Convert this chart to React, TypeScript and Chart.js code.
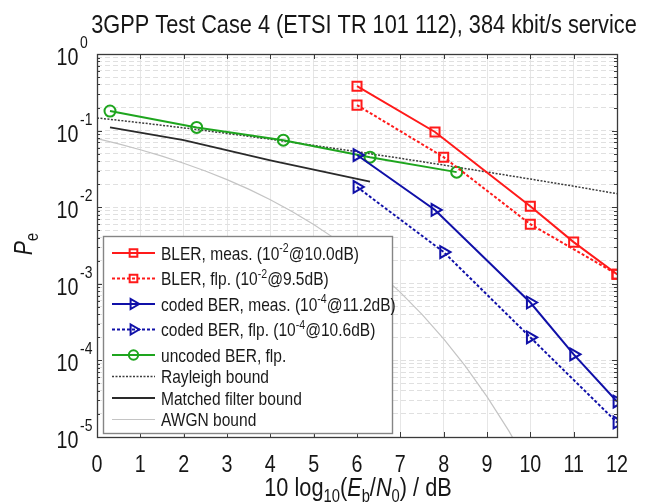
import React, { useEffect, useRef } from "react";
import { Chart, registerables } from "chart.js";
import { drawPoint } from "chart.js/helpers";

Chart.register(...registerables);

// ---------------- data ----------------
const titleText = "3GPP Test Case 4 (ETSI TR 101 112), 384 kbit/s service";
const xTickValues = [0, 1, 2, 3, 4, 5, 6, 7, 8, 9, 10, 11, 12];
const xTickLabels = ["0", "1", "2", "3", "4", "5", "6", "7", "8", "9", "10", "11", "12"];
const yDecadeExponents = [0, -1, -2, -3, -4, -5];
const yTickExponentLabels = ["0", "-1", "-2", "-3", "-4", "-5"];
const yMinorMultipliers = [2, 3, 4, 5, 6, 7, 8, 9];

const ebn0Meas = [6.0, 7.8, 10.0, 11.0, 12.0];
const ebn0Flp = [6.0, 8.0, 10.0, 12.0];
const blerMeas = [0.38, 0.096, 0.0103, 0.0035, 0.00133];
const blerFlp = [0.215, 0.045, 0.006, 0.00133];
const codedBerMeas = [0.048, 0.0092, 5.7e-4, 1.2e-4, 2.9e-5];
const codedBerFlp = [0.0184, 0.0026, 2.0e-4, 1.55e-5];

const ebn0Uncoded = [0.3, 2.3, 4.3, 6.3, 8.3];
const uncodedBerFlp = [0.18, 0.11, 0.075, 0.045, 0.0287];

const ebn0Rayleigh = [0, 1, 2, 3, 4, 5, 6, 7, 8, 9, 10, 11, 12];
const rayleighBound = [0.1464, 0.1267, 0.1085, 0.0919, 0.0771, 0.0642, 0.053, 0.0435, 0.0355, 0.0288, 0.0233, 0.0188, 0.015];

const ebn0Mfb = [0.3, 2.0, 4.0, 6.3];
const matchedFilterBound = [0.11, 0.075, 0.041, 0.0215];

const ebn0Awgn = [0, 0.5, 1, 1.5, 2, 2.5, 3, 3.5, 4, 4.5, 5, 5.5, 6, 6.5, 7, 7.5, 8, 8.5, 9, 9.5, 10];
const awgnBound = [0.0786, 0.0671, 0.0563, 0.0464, 0.0375, 0.0297, 0.0229, 0.0172, 0.0125, 0.0088, 0.00595, 0.00386, 0.00239, 0.0014, 7.73e-4, 3.99e-4, 1.91e-4, 8.4e-5, 3.36e-5, 1.21e-5, 3.87e-6];

const legendLabels = [
  "BLER, meas. (10^{-2}@10.0dB)",
  "BLER, flp. (10^{-2}@9.5dB)",
  "coded BER, meas. (10^{-4}@11.2dB)",
  "coded BER, flp. (10^{-4}@10.6dB)",
  "uncoded BER, flp.",
  "Rayleigh bound",
  "Matched filter bound",
  "AWGN bound",
];

// ---------------- text helpers ----------------
type Seg = { t: string; sup?: boolean; sub?: boolean; it?: boolean };
const FONT = '"Liberation Sans", Arial, Helvetica, sans-serif';
const SX = 0.82;

function parseRich(s: string): Seg[] {
  const out: Seg[] = [];
  const re = /([\^_])\{([^}]*)\}/g;
  let last = 0;
  let m: RegExpExecArray | null;
  while ((m = re.exec(s))) {
    if (m.index > last) out.push({ t: s.slice(last, m.index) });
    out.push(m[1] === "^" ? { t: m[2], sup: true } : { t: m[2], sub: true });
    last = m.index + m[0].length;
  }
  if (last < s.length) out.push({ t: s.slice(last) });
  return out;
}

function segFont(s: Seg, size: number) {
  const sz = s.sup || s.sub ? size * 0.68 : size;
  return `${s.it ? "italic " : ""}${sz}px ${FONT}`;
}

function drawRich(ctx: CanvasRenderingContext2D, segs: Seg[], x: number, y: number, size: number, align: "left" | "center" | "right", sx = SX, color = "#161616") {
  ctx.save();
  ctx.fillStyle = color;
  ctx.textBaseline = "alphabetic";
  ctx.textAlign = "left";
  const ws = segs.map((s) => {
    ctx.font = segFont(s, size);
    return ctx.measureText(s.t).width;
  });
  const total = ws.reduce((a, b) => a + b, 0);
  ctx.translate(x, y);
  ctx.scale(sx, 1);
  let cx = align === "left" ? 0 : align === "center" ? -total / 2 : -total;
  segs.forEach((s, i) => {
    ctx.font = segFont(s, size);
    const dy = s.sup ? -size * 0.4 : s.sub ? size * 0.22 : 0;
    ctx.fillText(s.t, cx, dy);
    cx += ws[i];
  });
  ctx.restore();
}

// ---------------- plugins ----------------
const yGridValues: number[] = [];
yDecadeExponents.forEach((e) => {
  yGridValues.push(Math.pow(10, e));
  if (e < 0) yMinorMultipliers.forEach((m) => yGridValues.push(m * Math.pow(10, e)));
});
yGridValues.sort((a, b) => a - b);

const matlabAxes = {
  id: "matlabAxes",
  afterDatasetsDraw(chart: any) {
    const { ctx, chartArea: a, scales } = chart;
    const xs = scales.x;
    const ys = scales.y;
    ctx.save();
    ctx.setLineDash([]);
    ctx.strokeStyle = "#3a3a3a";
    ctx.lineWidth = 1;
    ctx.beginPath();
    xTickValues.forEach((v) => {
      const px = Math.round(xs.getPixelForValue(v)) + 0.5;
      ctx.moveTo(px, a.bottom);
      ctx.lineTo(px, a.bottom - 5);
      ctx.moveTo(px, a.top);
      ctx.lineTo(px, a.top + 5);
    });
    yGridValues.forEach((v) => {
      const major = Math.abs(Math.log10(v) - Math.round(Math.log10(v))) < 1e-9;
      const len = major ? 5 : 3;
      const py = Math.round(ys.getPixelForValue(v)) + 0.5;
      ctx.moveTo(a.left, py);
      ctx.lineTo(a.left + len, py);
      ctx.moveTo(a.right, py);
      ctx.lineTo(a.right - len, py);
    });
    ctx.stroke();
    ctx.lineWidth = 1.3;
    ctx.strokeRect(a.left + 0.5, a.top + 0.5, a.right - a.left, a.bottom - a.top);

    // legend
    const lx0 = 103, lx1 = 392, ly0 = 236, ly1 = 433;
    ctx.fillStyle = "#ffffff";
    ctx.fillRect(lx0, ly0, lx1 - lx0, ly1 - ly0);
    ctx.strokeStyle = "#858585";
    ctx.lineWidth = 1.4;
    ctx.strokeRect(lx0 + 0.5, ly0 + 0.5, lx1 - lx0, ly1 - ly0);
    let cy = 253;
    chart.data.datasets.forEach((ds: any, i: number) => {
      const segs = parseRich(ds.label);
      const hasSup = segs.some((s) => s.sup);
      ctx.save();
      ctx.strokeStyle = ds.borderColor;
      ctx.lineWidth = ds.borderWidth;
      ctx.setLineDash(ds.borderDash || []);
      ctx.beginPath();
      ctx.moveTo(112, cy);
      ctx.lineTo(155, cy);
      ctx.stroke();
      ctx.setLineDash([]);
      if (ds.pointRadius > 0) {
        ctx.strokeStyle = ds.borderColor;
        ctx.fillStyle = "rgba(0,0,0,0)";
        ctx.lineWidth = ds.pointBorderWidth;
        drawPoint(ctx, { pointStyle: ds.pointStyle, rotation: ds.pointRotation || 0, radius: ds.pointRadius * 0.85, borderWidth: ds.pointBorderWidth }, 133.5, cy);
      }
      ctx.restore();
      drawRich(ctx, segs, 161, cy + 6.5, 18.5, "left", 0.84, "#1a1a1a");
      const next = chart.data.datasets[i + 1];
      const nextSup = next ? parseRich(next.label).some((s) => s.sup) : false;
      cy += hasSup || nextSup ? 25.5 : 21.5;
    });
    ctx.restore();
  },
  afterDraw(chart: any) {
    const { ctx, chartArea: a, scales } = chart;
    const xs = scales.x;
    const ys = scales.y;
    drawRich(ctx, [{ t: titleText }], 364, 33, 26.5, "center");
    xTickValues.forEach((v, i) => {
      drawRich(ctx, [{ t: xTickLabels[i] }], xs.getPixelForValue(v), a.bottom + 35, 24, "center");
    });
    yDecadeExponents.forEach((e, i) => {
      const py = ys.getPixelForValue(Math.pow(10, e));
      drawRich(ctx, [{ t: "10" }], 78.5, py + 11, 24, "right");
      drawRich(ctx, [{ t: yTickExponentLabels[i] }], 80, py - 6, 17, "left");
    });
    drawRich(
      ctx,
      [{ t: "10 log" }, { t: "10", sub: true }, { t: "(" }, { t: "E", it: true }, { t: "b", sub: true }, { t: "/" }, { t: "N", it: true }, { t: "0", sub: true }, { t: ") / dB" }],
      358,
      496,
      26.5,
      "center"
    );
    ctx.save();
    ctx.translate(32, 244);
    ctx.rotate(-Math.PI / 2);
    drawRich(ctx, [{ t: "P", it: true }, { t: "e", sub: true }], 0, 0, 26, "center");
    ctx.restore();
  },
};

function pts(xs: number[], ys: number[]) {
  return xs.map((x, i) => ({ x, y: ys[i] }));
}

const RED = "#ff1a1a";
const BLUE = "#1010a8";
const GREEN = "#1ea51e";

export default function App() {
  const ref = useRef<HTMLCanvasElement | null>(null);
  useEffect(() => {
    if (!ref.current) return;
    const marker = { pointBackgroundColor: "rgba(0,0,0,0)", pointBorderWidth: 2, pointHoverRadius: 0 };
    const chart = new Chart(ref.current, {
      type: "line",
      data: {
        datasets: [
          { label: legendLabels[0], data: pts(ebn0Meas, blerMeas), borderColor: RED, borderWidth: 2, borderDash: [], pointStyle: "rect", pointRadius: 6.4, pointBorderColor: RED, ...marker },
          { label: legendLabels[1], data: pts(ebn0Flp, blerFlp), borderColor: RED, borderWidth: 2, borderDash: [3, 2], pointStyle: "rect", pointRadius: 6.4, pointBorderColor: RED, ...marker },
          { label: legendLabels[2], data: pts(ebn0Meas, codedBerMeas), borderColor: BLUE, borderWidth: 2, borderDash: [], pointStyle: "triangle", pointRotation: 90, pointRadius: 6.8, pointBorderColor: BLUE, ...marker },
          { label: legendLabels[3], data: pts(ebn0Flp, codedBerFlp), borderColor: BLUE, borderWidth: 2, borderDash: [3, 2], pointStyle: "triangle", pointRotation: 90, pointRadius: 6.8, pointBorderColor: BLUE, ...marker },
          { label: legendLabels[4], data: pts(ebn0Uncoded, uncodedBerFlp), borderColor: GREEN, borderWidth: 2, borderDash: [], pointStyle: "circle", pointRadius: 5.5, pointBorderColor: GREEN, ...marker },
          { label: legendLabels[5], data: pts(ebn0Rayleigh, rayleighBound), borderColor: "#3c3c3c", borderWidth: 1.5, borderDash: [2, 1.5], pointRadius: 0 },
          { label: legendLabels[6], data: pts(ebn0Mfb, matchedFilterBound), borderColor: "#2a2a2a", borderWidth: 1.8, borderDash: [], pointRadius: 0 },
          { label: legendLabels[7], data: pts(ebn0Awgn, awgnBound), borderColor: "#c4c4c4", borderWidth: 1.2, borderDash: [], pointRadius: 0, clip: 0 },
        ] as any,
      },
      options: {
        responsive: false,
        animation: false,
        devicePixelRatio: 1,
        layout: { padding: { top: 54, right: 43, bottom: 66, left: 0 } },
        plugins: { legend: { display: false }, tooltip: { enabled: false }, title: { display: false } },
        elements: { line: { tension: 0 } },
        scales: {
          x: {
            type: "linear",
            min: 0,
            max: 12,
            ticks: { display: false, stepSize: 1 },
            grid: { color: "#e6e6e6", lineWidth: 1, drawTicks: false },
            border: { display: false },
            afterFit: (s: any) => {
              s.height = 0;
            },
          },
          y: {
            type: "logarithmic",
            min: 1e-5,
            max: 1,
            ticks: { display: false },
            grid: { color: "#e0e0e0", lineWidth: 1, drawTicks: false },
            border: { display: false, dash: [5, 3] },
            afterBuildTicks: (s: any) => {
              s.ticks = yGridValues.map((v) => ({ value: v }));
            },
            afterFit: (s: any) => {
              s.width = 97;
            },
          },
        },
      } as any,
      plugins: [matlabAxes],
    });
    return () => chart.destroy();
  }, []);
  return (
    <div style={{ position: "absolute", left: 0, top: 0, width: 660, height: 503, background: "#fff" }}>
      <canvas ref={ref} width={660} height={503} style={{ width: 660, height: 503, display: "block" }} />
    </div>
  );
}
